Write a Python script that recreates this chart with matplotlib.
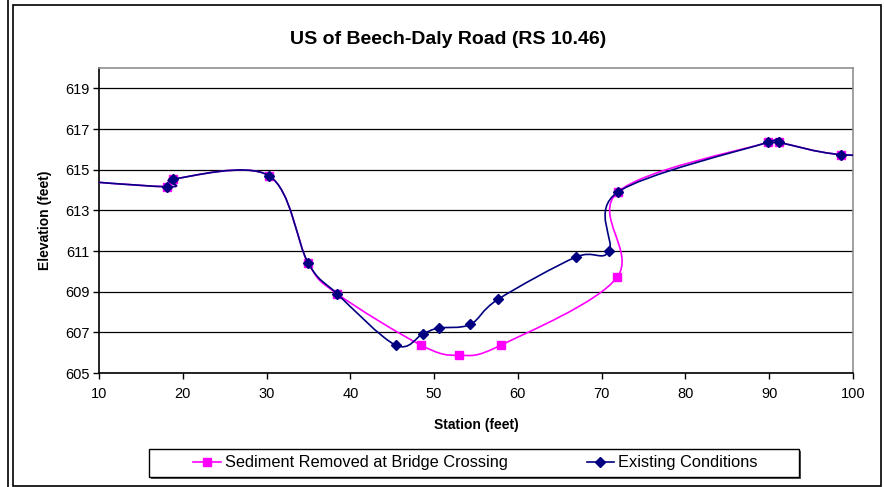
import numpy as np
import matplotlib
matplotlib.use("Agg")
import matplotlib.pyplot as plt
from matplotlib.path import Path
from matplotlib.patches import PathPatch, Rectangle
from matplotlib.lines import Line2D

plt.rcParams['font.family'] = ['Liberation Sans', 'DejaVu Sans']

# Station (feet) / elevation (feet)
sed_x = [0.0, 18.08, 18.83, 30.29, 34.95, 38.41, 48.43, 53.0, 57.98, 71.83, 71.9, 89.81, 91.12, 98.6, 110.0]
sed_y = [614.7, 614.16, 614.54, 614.7, 610.42, 608.9, 606.37, 605.87, 606.37, 609.7, 613.89, 616.34, 616.34, 615.74, 615.74]

ex_x = [0.0, 18.08, 18.83, 30.29, 34.95, 38.41, 45.41, 48.67, 50.54, 54.32, 57.62, 66.9, 70.87, 71.9,
        89.81, 91.12, 98.6, 110.0]
ex_y = [614.7, 614.16, 614.54, 614.7, 610.42, 608.9, 606.37, 606.93, 607.21, 607.39, 608.62, 610.7, 610.98, 613.89,
        616.34, 616.34, 615.74, 615.74]

x_ticks = [10, 20, 30, 40, 50, 60, 70, 80, 90, 100]
y_ticks = [605, 607, 609, 611, 613, 615, 617, 619]

MAGENTA = '#FF00FF'
NAVY = '#000080'


def smooth_path(x, y):
    # Excel style smoothed line: bezier segments through every point
    p = np.column_stack([x, y])
    n = len(p)
    verts = [p[0]]
    codes = [Path.MOVETO]
    for i in range(n - 1):
        p0 = p[max(i - 1, 0)]
        p1 = p[i]
        p2 = p[i + 1]
        p3 = p[min(i + 2, n - 1)]
        verts += [p1 + (p2 - p0) / 6, p2 - (p3 - p1) / 6, p2]
        codes += [Path.CURVE4] * 3
    return Path(verts, codes)


fig = plt.figure(figsize=(8.84, 4.87), dpi=100)
W, H = 884, 487

# outer frames
fig.add_artist(Line2D([8 / W, 8 / W], [0, 1], color='black', lw=1.2, transform=fig.transFigure))
fig.add_artist(Rectangle((12.5 / W, 1 - 486 / H), (881 - 12.5) / W, (486 - 5) / H, fill=False,
                         edgecolor='black', lw=1.2, transform=fig.transFigure))

ax = fig.add_axes([99 / W, 1 - 373 / H, (853 - 99) / W, (373 - 68) / H])

ax.add_patch(PathPatch(smooth_path(sed_x, sed_y), fill=False, edgecolor=MAGENTA, lw=1.2, zorder=3))
ax.plot(sed_x, sed_y, ls='none', marker='s', ms=6, color=MAGENTA, zorder=4)
ax.add_patch(PathPatch(smooth_path(ex_x, ex_y), fill=False, edgecolor=NAVY, lw=1.2, zorder=5))
ax.plot(ex_x, ex_y, ls='none', marker='D', ms=5, color=NAVY, zorder=6)

ax.set_xlim(10, 100)
ax.set_ylim(605, 620)
ax.set_xticks(x_ticks)
ax.set_yticks(y_ticks)
ax.tick_params(direction='out', length=4, width=1, labelsize=10.5, colors='black')
ax.tick_params(axis='x', pad=6)
ax.tick_params(axis='y', pad=3)
ax.yaxis.grid(True, color='black', lw=0.9)
ax.set_axisbelow(True)
for s in ['left', 'bottom']:
    ax.spines[s].set_color('black')
    ax.spines[s].set_linewidth(1.2)
for s in ['top', 'right']:
    ax.spines[s].set_color('#909090')
    ax.spines[s].set_linewidth(1.2)

ax.set_xlabel('Station (feet)', fontsize=10, fontweight='bold')
ax.set_ylabel('Elevation (feet)', fontsize=10, fontweight='bold')
ax.xaxis.set_label_coords(0.5, -(418 - 373) / (373 - 68))
ax.yaxis.set_label_coords(-(99 - 52) / (853 - 99), 0.5)
fig.text(448 / W, 1 - 40 / H, 'US of Beech-Daly Road (RS 10.46)', fontsize=14, fontweight='bold',
         ha='center', va='center')

# legend box with shadow, drawn by hand
fig.add_artist(Rectangle((151 / W, 1 - 479 / H), (799 - 149) / W, (477 - 449) / H,
                         facecolor='#555555', edgecolor='none', transform=fig.transFigure, zorder=9))
fig.add_artist(Rectangle((149 / W, 1 - 477 / H), (799 - 149) / W, (477 - 449) / H,
                         facecolor='white', edgecolor='black', lw=1.0, transform=fig.transFigure, zorder=10))

handles = [Line2D([], [], color=MAGENTA, marker='s', ms=6, lw=1.2),
           Line2D([], [], color=NAVY, marker='D', ms=5, lw=1.2)]
leg = fig.legend(handles, ['Sediment Removed at Bridge Crossing', 'Existing Conditions'], ncol=2,
                 loc='center', bbox_to_anchor=(475.5 / W, 1 - 463 / H), bbox_transform=fig.transFigure,
                 fontsize=11.8, handlelength=1.7, handletextpad=0.25, columnspacing=4.8,
                 frameon=False, borderpad=0.2)
leg.set_zorder(11)

fig.savefig('out.png', dpi=100)
